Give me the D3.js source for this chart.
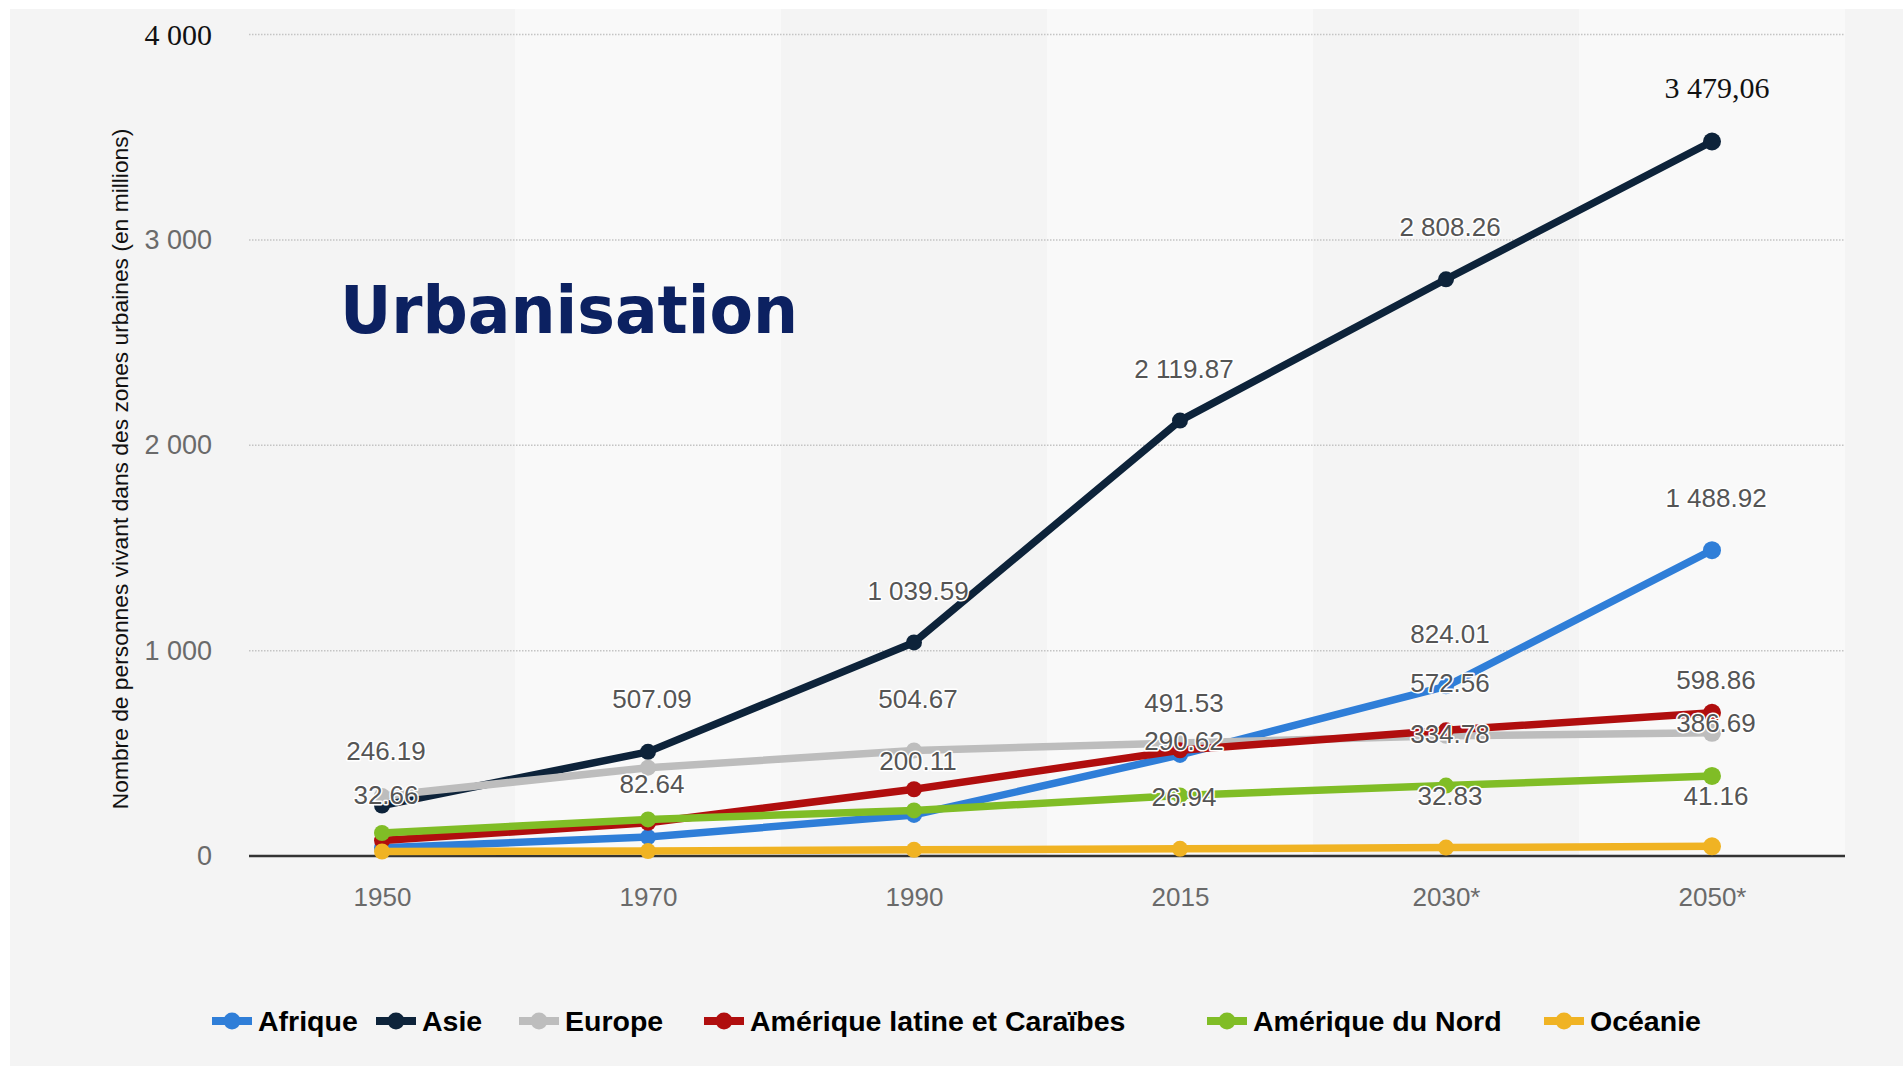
<!DOCTYPE html>
<html><head><meta charset="utf-8">
<script src="https://cdn.jsdelivr.net/npm/d3@7"></script>
<style>body{margin:0;background:#fff;} svg{display:block}</style>
</head><body><svg id="c" width="1903" height="1066"></svg>
<script>
// ---- data ----
const categories = ["1950", "1970", "1990", "2015", "2030*", "2050*"];
const seriesNames = ["Afrique", "Asie", "Europe", "Amérique latine et Caraïbes", "Amérique du Nord", "Océanie"];
const afrique = [40, 92, 200, 492, 826, 1489];
const asie = [246, 507, 1040, 2120, 2808, 3479];
const europe = [292, 430, 514, 550, 585, 600];
const ameriqueLatine = [75, 162, 325, 515, 612, 697];
const ameriqueNord = [112, 178, 222, 295, 343, 390];
const oceanie = [22, 24, 30, 35, 41, 47];
const yTicks = [0, 1000, 2000, 3000, 4000];
const yTickLabels = ["0", "1 000", "2 000", "3 000", "4 000"];
// data labels as printed on the chart (category, text, vertical level in value units)
const labelCats = ["1950","1950","1970","1970","1990","1990","1990","2015","2015","2015","2015","2030*","2030*","2030*","2030*","2030*","2050*","2050*","2050*","2050*"];
const labelTexts = ["246.19","32.66","507.09","82.64","1 039.59","504.67","200.11","2 119.87","491.53","290.62","26.94","2 808.26","824.01","572.56","334.78","32.83","1 488.92","598.86","386.69","41.16"];
const labelLevels = [511, 297, 764, 351, 1290, 764, 462, 2371, 745, 560, 287, 3062, 1081, 842, 594, 292, 1743, 857, 648, 292];
const topLabel = "3 479,06";
const title = "Urbanisation";
const yTitle = "Nombre de personnes vivant dans des zones urbaines (en millions)";

// ---- styles / layout ----
const colors = ["#2f7ed8", "#0d233a", "#bdbdbd", "#b00e0e", "#80bd26", "#f0b323"];
const seriesValues = [afrique, asie, europe, ameriqueLatine, ameriqueNord, oceanie];
const legendX = [212, 376, 519, 704, 1207, 1544];

const svg = d3.select("#c");
const W = 1903, H = 1066;
const plot = {left: 249, right: 1845, top: 34.5, bottom: 856};

svg.append("rect").attr("width", W).attr("height", H).attr("fill", "#fff");
svg.append("rect").attr("x", 10).attr("y", 9).attr("width", W - 10).attr("height", H - 9).attr("fill", "#f4f4f4");

const xBand = d3.scaleBand().domain(categories).range([plot.left, plot.right]);
const x = c => xBand(c) + xBand.bandwidth() / 2;
const y = d3.scaleLinear().domain([0, 4000]).range([plot.bottom, plot.top]);

// alternating bands
svg.append("g").selectAll("rect").data(categories.filter((c, i) => i % 2 === 1)).join("rect")
  .attr("x", d => xBand(d)).attr("y", 9).attr("width", xBand.bandwidth()).attr("height", plot.bottom - 9)
  .attr("fill", "#f9f9f9");

// grid
svg.append("g").selectAll("line").data(yTicks.filter(t => t > 0)).join("line")
  .attr("x1", plot.left).attr("x2", plot.right).attr("y1", d => y(d)).attr("y2", d => y(d))
  .attr("stroke", "#c4c4c4").attr("stroke-width", 1.5).attr("stroke-dasharray", "1.5,1.5");

// y axis
const yAxis = svg.append("g").attr("transform", `translate(${plot.left},0)`)
  .call(d3.axisLeft(y).tickValues(yTicks).tickSize(0).tickPadding(37)
    .tickFormat((d, i) => yTickLabels[i]));
yAxis.select(".domain").remove();
yAxis.selectAll("text").attr("font-family", "Liberation Sans, Arial, sans-serif")
  .attr("font-size", 27).attr("fill", "#6a6a6a");
yAxis.selectAll("text").filter(d => d === 4000)
  .attr("font-family", "Liberation Serif, Times New Roman, serif").attr("font-size", 30).attr("fill", "#111");

// x axis
const xAxis = svg.append("g").attr("transform", `translate(0,${plot.bottom})`)
  .call(d3.axisBottom(d3.scalePoint().domain(categories).range([x(categories[0]), x(categories[categories.length-1])]))
    .tickSize(0).tickPadding(32));
xAxis.select(".domain").remove();
xAxis.selectAll("text").attr("font-family", "Liberation Sans, Arial, sans-serif")
  .attr("font-size", 26).attr("fill", "#6a6a6a");

// baseline
svg.append("line").attr("x1", plot.left).attr("x2", plot.right).attr("y1", y(0)).attr("y2", y(0))
  .attr("stroke", "#333").attr("stroke-width", 2.5);

// title
svg.append("text").attr("x", 340).attr("y", 333).text(title)
  .attr("font-family", "DejaVu Sans, Verdana, sans-serif").attr("font-weight", "bold")
  .attr("font-size", 65).attr("fill", "#0c2161")
  .attr("textLength", 458).attr("lengthAdjust", "spacingAndGlyphs");

// y title
svg.append("text").attr("transform", "translate(128,469) rotate(-90)")
  .attr("text-anchor", "middle").text(yTitle)
  .attr("font-family", "Liberation Sans, Arial, sans-serif").attr("font-size", 22.8).attr("fill", "#111");

// lines
const line = d3.line().x((d, i) => x(categories[i])).y(d => y(d));
const gSeries = svg.append("g");
seriesValues.forEach((vals, si) => {
  const g = gSeries.append("g");
  g.append("path").attr("d", line(vals)).attr("fill", "none")
    .attr("stroke", colors[si]).attr("stroke-width", 7.5).attr("stroke-linejoin", "round");
  g.selectAll("circle").data(vals).join("circle")
    .attr("cx", (d, i) => x(categories[i])).attr("cy", d => y(d))
    .attr("r", (d, i) => i === vals.length - 1 ? 9 : 8).attr("fill", colors[si]);
});

// data labels
svg.append("g").selectAll("text").data(labelTexts).join("text")
  .attr("x", (d, i) => x(labelCats[i]) + 4).attr("y", (d, i) => y(labelLevels[i]))
  .attr("dy", "0.35em").attr("text-anchor", "middle").text(d => d)
  .attr("font-family", "Liberation Sans, Arial, sans-serif").attr("font-size", 26)
  .attr("fill", "#555").attr("stroke", "#fff").attr("stroke-width", 3)
  .attr("paint-order", "stroke").attr("stroke-linejoin", "round");

svg.append("text").attr("x", x("2050*") + 5).attr("y", y(3740)).attr("dy", "0.35em")
  .attr("text-anchor", "middle").text(topLabel)
  .attr("font-family", "Liberation Serif, Times New Roman, serif").attr("font-size", 30).attr("fill", "#111");

// legend
const lg = svg.append("g").attr("transform", "translate(0,1021)");
seriesNames.forEach((name, i) => {
  const g = lg.append("g").attr("transform", `translate(${legendX[i]},0)`);
  g.append("line").attr("x1", 0).attr("x2", 40).attr("stroke", colors[i]).attr("stroke-width", 8);
  g.append("circle").attr("cx", 20).attr("r", 8.5).attr("fill", colors[i]);
  g.append("text").attr("x", 46).attr("dy", "0.36em").text(name)
    .attr("font-family", "Liberation Sans, Arial, sans-serif").attr("font-weight", "bold")
    .attr("font-size", 28.5).attr("fill", "#000");
});
</script></body></html>
